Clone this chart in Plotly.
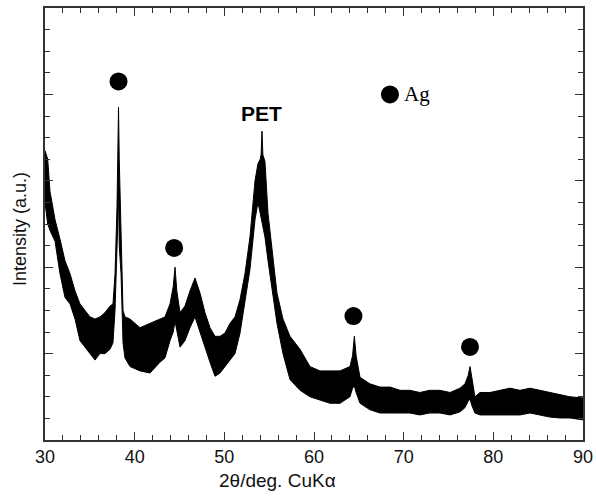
import plotly.graph_objects as go

# 2-theta positions (deg) and the upper / lower edge of the noisy XRD trace (a.u.)
two_theta = [30.0, 30.3, 30.56, 31.12, 31.67, 32.23, 32.79, 33.35, 33.90, 34.46, 35.02, 35.58,
             36.13, 36.69, 37.25, 37.58, 37.81, 38.03, 38.15, 38.2, 38.28, 38.48, 38.70, 38.92,
             39.48, 40.59, 41.71, 42.82, 43.38, 43.94, 44.3, 44.5, 44.7, 45.06, 45.61, 46.17,
             46.73, 47.29, 47.84, 48.40, 48.96, 49.52, 50.07, 50.63, 51.19, 51.75, 52.30, 52.86,
             53.42, 53.75, 54.0, 54.1, 54.2, 54.3, 54.53, 54.87, 55.32, 55.87, 56.54, 57.32,
             58.44, 59.55, 60.67, 61.78, 62.90, 64.01, 64.3, 64.5, 64.7, 65.13, 66.24, 67.36,
             68.5, 69.6, 70.7, 71.8, 72.9, 74.05, 75.17, 76.28, 76.84, 77.2, 77.4, 77.6,
             77.95, 78.51, 79.63, 80.74, 81.86, 82.97, 84.09, 85.2, 86.32, 87.43, 88.55, 90.0]
upper = [13.4, 13.0, 11.5, 10.2, 9.3, 8.3, 7.7, 6.9, 6.3, 6.0, 5.7, 5.6,
         5.7, 5.9, 6.2, 6.3, 7.7, 10.8, 13.0, 15.4, 13.0, 9.4, 6.0, 5.7,
         5.6, 5.2, 5.4, 5.6, 5.7, 6.3, 7.1, 8.0, 6.9, 5.9, 6.2, 6.9,
         7.5, 6.8, 5.9, 5.2, 4.8, 4.8, 4.95, 5.4, 5.7, 6.5, 7.7, 9.4,
         12.0, 12.8, 13.0, 13.2, 14.3, 13.2, 12.9, 10.5, 8.7, 6.8, 5.6, 4.8,
         4.2, 3.4, 3.2, 3.2, 3.2, 3.4, 3.9, 4.8, 3.9, 2.9, 2.6, 2.45,
         2.45, 2.3, 2.3, 2.2, 2.3, 2.3, 2.2, 2.4, 2.6, 3.0, 3.4, 2.9,
         2.0, 2.2, 2.2, 2.3, 2.4, 2.3, 2.4, 2.3, 2.2, 2.1, 2.0, 1.95]
lower = [11.0, 10.0, 9.7, 9.2, 7.7, 6.6, 6.3, 5.6, 4.6, 4.3, 4.0, 3.7,
         4.0, 4.0, 4.2, 4.5, 6.0, 8.5, 10.5, 12.0, 9.0, 7.7, 4.5, 3.8,
         3.4, 3.2, 3.1, 3.6, 3.8, 4.6, 5.0, 5.5, 5.0, 4.3, 4.6, 5.2,
         5.7, 4.95, 4.3, 3.6, 2.95, 3.1, 3.4, 3.7, 4.0, 4.95, 6.5, 7.9,
         10.2, 11.0, 10.5, 10.3, 10.2, 10.0, 9.4, 8.3, 7.0, 5.4, 4.0, 2.8,
         2.3, 2.0, 1.85, 1.7, 1.7, 2.0, 2.4, 2.5, 2.2, 1.7, 1.4, 1.25,
         1.25, 1.25, 1.25, 1.16, 1.25, 1.25, 1.16, 1.3, 1.5, 1.8, 1.9, 1.6,
         1.25, 1.16, 1.16, 1.16, 1.16, 1.16, 1.25, 1.16, 1.06, 1.02, 1.02, 0.93]

# Ag reflection markers
ag_theta = [38.2, 44.4, 64.4, 77.4]
ag_marker_y = [16.6, 8.89, 5.74, 4.31]
legend_pos = (68.47, 16.0)
pet_label_pos = (54.15, 15.1)

W, H = 596, 499
ML, MR, MT, MB = 45, 13, 8, 59
PW, PH = W - ML - MR, H - MT - MB


def px_to_paper(px, py):
    return (px - ML) / PW, (H - MB - py) / PH


fig = go.Figure()
fig.add_trace(go.Scatter(x=two_theta, y=lower, mode="lines",
                         line=dict(color="black", width=1), showlegend=False,
                         hoverinfo="skip"))
fig.add_trace(go.Scatter(x=two_theta, y=upper, mode="lines", fill="tonexty",
                         fillcolor="black", line=dict(color="black", width=1),
                         showlegend=False))
fig.add_trace(go.Scatter(x=ag_theta, y=ag_marker_y, mode="markers",
                         marker=dict(color="black", size=18, line=dict(width=0)),
                         showlegend=False))
fig.add_trace(go.Scatter(x=[legend_pos[0]], y=[legend_pos[1]], mode="markers",
                         marker=dict(color="black", size=18, line=dict(width=0)),
                         showlegend=False))

fig.add_annotation(x=legend_pos[0], y=legend_pos[1], text="Ag", xref="x", yref="y",
                   xanchor="left", yanchor="middle", xshift=12, showarrow=False,
                   font=dict(family="Liberation Serif", size=21, color="black"))
fig.add_annotation(x=pet_label_pos[0], y=pet_label_pos[1], text="<b>PET</b>",
                   xref="x", yref="y", showarrow=False,
                   font=dict(family="Liberation Sans", size=21, color="black"))
tx, ty = px_to_paper(277, 480)
fig.add_annotation(x=tx, y=ty, xref="paper", yref="paper", text="2θ/deg. CuKα",
                   showarrow=False, xanchor="center", yanchor="middle",
                   font=dict(family="Liberation Sans", size=19, color="#111"))
yx, yy = px_to_paper(20, 229)
fig.add_annotation(x=yx, y=yy, xref="paper", yref="paper", text="Intensity (a.u.)",
                   showarrow=False, xanchor="center", yanchor="middle", textangle=-90,
                   font=dict(family="Liberation Sans", size=18, color="#111"))

axis_common = dict(showline=True, linecolor="#333", linewidth=1.5, mirror="allticks",
                   ticks="inside", tickcolor="#333", tickwidth=1.2, ticklen=8,
                   showgrid=False, zeroline=False, automargin=False)

fig.update_xaxes(range=[30, 90], dtick=10, tick0=30,
                 minor=dict(dtick=2, ticks="inside", ticklen=5, tickcolor="#333", tickwidth=1.2),
                 tickfont=dict(family="Liberation Sans", size=18, color="#111"),
                 **axis_common)
fig.update_yaxes(range=[0, 20], dtick=4, tick0=0, showticklabels=False,
                 minor=dict(dtick=1, ticks="inside", ticklen=5, tickcolor="#333", tickwidth=1.2),
                 **axis_common)

fig.update_layout(width=W, height=H, margin=dict(l=ML, r=MR, t=MT, b=MB),
                  plot_bgcolor="white", paper_bgcolor="white")

fig.write_html("out.html", config={"displayModeBar": False},
               post_script="document.body.style.margin='0px';document.body.style.overflow='hidden';")
